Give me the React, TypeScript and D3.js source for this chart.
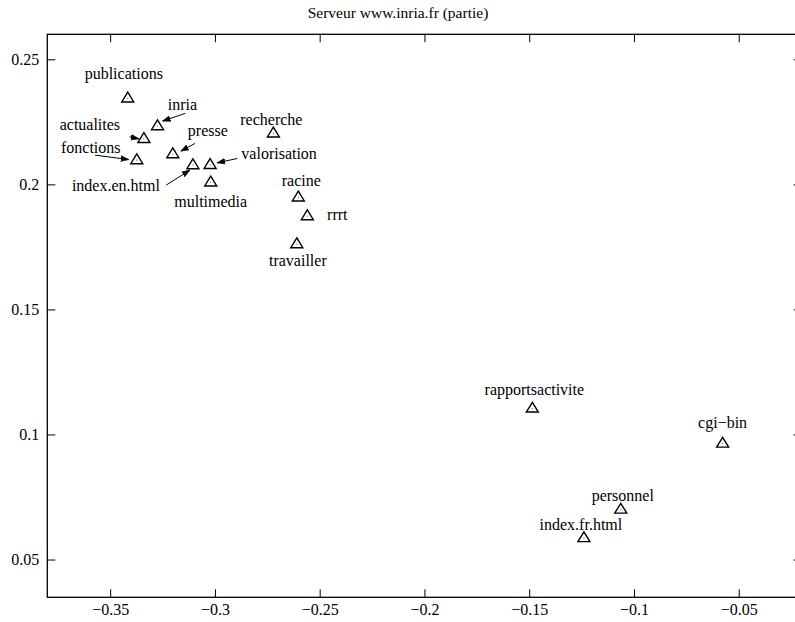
import React, { useEffect, useRef } from "react";
import * as d3 from "d3";

// pages du serveur (projection)
const pages = [
  "publications",
  "inria",
  "actualites",
  "presse",
  "fonctions",
  "index.en.html",
  "valorisation",
  "multimedia",
  "recherche",
  "racine",
  "rrrt",
  "travailler",
  "rapportsactivite",
  "cgi\u2212bin",
  "personnel",
  "index.fr.html",
];
const xValues = [
  -0.3416, -0.3274, -0.3339, -0.3201, -0.3373, -0.3105, -0.3023, -0.302,
  -0.2721, -0.2602, -0.2559, -0.2609, -0.1485, -0.0577, -0.1063, -0.1239,
];
const yValues = [
  0.2344, 0.2233, 0.2182, 0.2121, 0.2097, 0.2077, 0.2078, 0.2008,
  0.2204, 0.1948, 0.1873, 0.1761, 0.1104, 0.0964, 0.07, 0.0586,
];
const xTicks = [-0.35, -0.3, -0.25, -0.2, -0.15, -0.1, -0.05];
const yTicks = [0.05, 0.1, 0.15, 0.2, 0.25];
const xDomain = [-0.38, -0.02];
const yDomain = [0.0349, 0.26];

// placement des etiquettes (px, relatif au point) et fleches [queue x,y, tete x,y]
const labelLayout: Record<string, { dx: number; dy: number; arrow?: number[] }> = {
  publications: { dx: -4, dy: -25 },
  inria: { dx: 25, dy: -22, arrow: [27.7, -12.7, 5, -5] },
  actualites: { dx: -54, dy: -14, arrow: [-14.4, -2, -5, 0] },
  presse: { dx: 35, dy: -24, arrow: [22.3, -10.7, 8, -3] },
  fonctions: { dx: -46, dy: -13, arrow: [-41.7, -5, -8, -0.5] },
  "index.en.html": { dx: -77, dy: 20, arrow: [-26.7, 20, -3, 5] },
  valorisation: { dx: 69, dy: -11, arrow: [27.3, -6.4, 7, -2] },
  multimedia: { dx: 0, dy: 19 },
  recherche: { dx: -2, dy: -14 },
  racine: { dx: 3, dy: -17 },
  rrrt: { dx: 30, dy: -2 },
  travailler: { dx: 1, dy: 16 },
  rapportsactivite: { dx: 2, dy: -19 },
  "cgi\u2212bin": { dx: 0, dy: -21 },
  personnel: { dx: 2, dy: -14 },
  "index.fr.html": { dx: -3, dy: -14 },
};

const width = 795;
const height = 622;
const plot = { left: 47.3, right: 801.6, top: 34.3, bottom: 597.3 };
const font = "'Liberation Serif', 'Times New Roman', serif";

function Nuage() {
  const ref = useRef<SVGSVGElement>(null);

  useEffect(() => {
    const svg = d3.select(ref.current);
    svg.selectAll("*").remove();

    const x = d3.scaleLinear().domain(xDomain).range([plot.left, plot.right]);
    const y = d3.scaleLinear().domain(yDomain).range([plot.bottom, plot.top]);
    const fmt = d3.format("~g");

    svg
      .append("defs")
      .append("marker")
      .attr("id", "fleche")
      .attr("viewBox", "0 0 10 10")
      .attr("refX", 10)
      .attr("refY", 5)
      .attr("markerWidth", 8)
      .attr("markerHeight", 8)
      .attr("markerUnits", "userSpaceOnUse")
      .attr("orient", "auto")
      .append("path")
      .attr("d", "M0,1.5 L10,5 L0,8.5 Z")
      .attr("fill", "#000")
      .attr("stroke", "#000")
      .attr("stroke-width", 0.8);

    // titre
    svg
      .append("text")
      .attr("x", 398)
      .attr("y", 18)
      .attr("text-anchor", "middle")
      .attr("font-family", font)
      .attr("font-size", 15.5)
      .text("Serveur www.inria.fr (partie)");

    // axes (ticks vers l'interieur, en miroir)
    const styleAxis = (g: any) => {
      g.select(".domain").remove();
      g.selectAll("line").attr("stroke", "#000").attr("stroke-width", 1);
      g.selectAll("text").attr("font-family", font).attr("font-size", 16).attr("fill", "#000");
    };

    svg
      .append("g")
      .attr("transform", `translate(0,${plot.bottom})`)
      .call(d3.axisBottom(x).tickValues(xTicks).tickFormat(fmt).tickSize(-8).tickSizeOuter(0).tickPadding(6))
      .call(styleAxis);
    svg
      .append("g")
      .attr("transform", `translate(0,${plot.top})`)
      .call(d3.axisTop(x).tickValues(xTicks).tickFormat(() => "").tickSize(-8).tickSizeOuter(0))
      .call(styleAxis);
    svg
      .append("g")
      .attr("transform", `translate(${plot.left},0)`)
      .call(d3.axisLeft(y).tickValues(yTicks).tickFormat(fmt).tickSize(-8).tickSizeOuter(0).tickPadding(8))
      .call(styleAxis);
    svg
      .append("g")
      .attr("transform", `translate(${plot.right},0)`)
      .call(d3.axisRight(y).tickValues(yTicks).tickFormat(() => "").tickSize(-8).tickSizeOuter(0))
      .call(styleAxis);

    // cadre
    svg
      .append("rect")
      .attr("x", plot.left)
      .attr("y", plot.top)
      .attr("width", plot.right - plot.left)
      .attr("height", plot.bottom - plot.top)
      .attr("fill", "none")
      .attr("stroke", "#000")
      .attr("stroke-width", 1.3);

    const data = pages.map((p, i) => ({ page: p, vx: xValues[i], vy: yValues[i] }));

    // triangles
    const tri = "M0,-6.2L6,3.6L-6,3.6Z";
    const pts = svg
      .append("g")
      .selectAll("g")
      .data(data)
      .join("g")
      .attr("transform", (d) => `translate(${x(d.vx)},${y(d.vy)})`);
    pts.append("path").attr("d", tri).attr("fill", "none").attr("stroke", "#000").attr("stroke-width", 1.4);
    pts.append("rect").attr("x", -0.5).attr("y", -0.5).attr("width", 1).attr("height", 1).attr("fill", "#555");

    // etiquettes
    svg
      .append("g")
      .selectAll("text")
      .data(data)
      .join("text")
      .attr("x", (d) => x(d.vx) + labelLayout[d.page].dx)
      .attr("y", (d) => y(d.vy) + labelLayout[d.page].dy)
      .attr("text-anchor", "middle")
      .attr("dominant-baseline", "central")
      .attr("font-family", font)
      .attr("font-size", 16)
      .text((d) => d.page);

    // fleches
    svg
      .append("g")
      .selectAll("line")
      .data(data.filter((d) => labelLayout[d.page].arrow))
      .join("line")
      .attr("x1", (d) => x(d.vx) + labelLayout[d.page].arrow![0])
      .attr("y1", (d) => y(d.vy) + labelLayout[d.page].arrow![1])
      .attr("x2", (d) => x(d.vx) + labelLayout[d.page].arrow![2])
      .attr("y2", (d) => y(d.vy) + labelLayout[d.page].arrow![3])
      .attr("stroke", "#000")
      .attr("stroke-width", 1)
      .attr("marker-end", "url(#fleche)");
  }, []);

  return (
    <svg
      ref={ref}
      width={width}
      height={height}
      style={{ position: "absolute", left: 0, top: 0, background: "#fff" }}
    />
  );
}

export default function App() {
  return <Nuage />;
}
